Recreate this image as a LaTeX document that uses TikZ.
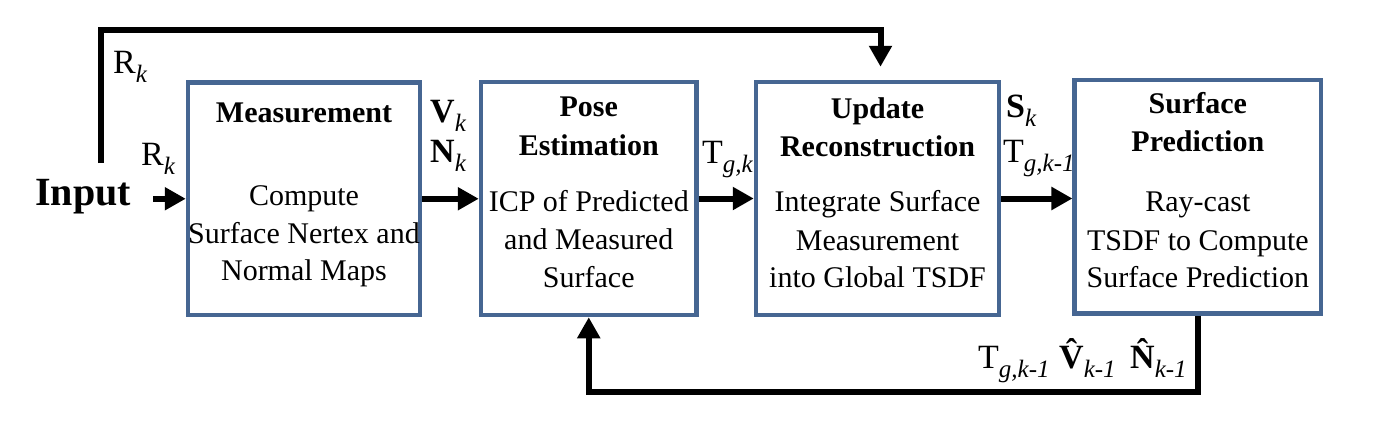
\documentclass[tikz,border=0pt]{standalone}
\usepackage{fontspec}
\setmainfont{Liberation Serif}
\usetikzlibrary{arrows.meta}
\definecolor{boxblue}{RGB}{70,102,146}
\newcommand\lsub[1]{\raisebox{-9pt}{\fontsize{25}{25}\selectfont\mdseries\itshape #1}}
\begin{document}
\begin{tikzpicture}[x=1pt,y=-1pt,
  box/.style={draw=boxblue, line width=4.5pt, inner sep=0pt},
  arr/.style={line width=6pt, -{Triangle[length=21pt,width=22pt]}},
  ln/.style={line width=6pt},
  hd/.style={font=\fontsize{30}{36}\selectfont\bfseries, anchor=base, inner sep=0pt},
  bd/.style={font=\fontsize{30}{36}\selectfont, anchor=base, inner sep=0pt},
  lbl/.style={font=\fontsize{34}{40}\selectfont, anchor=base west, inner sep=0pt},
  blbl/.style={lbl, font=\fontsize{34}{40}\selectfont\bfseries}]
\useasboundingbox (0,0) rectangle (1400,434);

% boxes
\node[box, minimum width=232pt, minimum height=232.5pt] (m) at (304,198.75) {};
\node[box, minimum width=215.5pt, minimum height=233pt] (p) at (588.75,198.5) {};
\node[box, minimum width=243pt, minimum height=233pt] (u) at (877.5,198.5) {};
\node[box, minimum width=246.3pt, minimum height=233.5pt] (s) at (1197.85,196.75) {};

% box texts
\node[hd] (m1) at (304,122) {Measurement};
\node[bd] (m2) at (304,205) {Compute};
\node[bd] (m3) at (304,243) {Surface Nertex and};
\node[bd] (m4) at (304,280) {Normal Maps};

\node[hd] (p1) at (588.75,116.7) {Pose};
\node[hd] (p2) at (588.75,155) {Estimation};
\node[bd] (p3) at (588.75,211.7) {ICP of Predicted};
\node[bd] (p4) at (588.75,249.3) {and Measured};
\node[bd] (p5) at (588.75,287.3) {Surface};

\node[hd] (u1) at (877.5,118.3) {Update};
\node[hd] (u2) at (877.5,156.7) {Reconstruction};
\node[bd] (u3) at (877.5,211.7) {Integrate Surface};
\node[bd] (u4) at (877.5,250) {Measurement};
\node[bd] (u5) at (877.5,287.3) {into Global TSDF};

\node[hd] (s1) at (1197.85,113.3) {Surface};
\node[hd] (s2) at (1197.85,151.7) {Prediction};
\node[bd] (s3) at (1197.85,211.7) {Ray-cast};
\node[bd] (s4) at (1197.85,250) {TSDF to Compute};
\node[bd] (s5) at (1197.85,287.3) {Surface Prediction};

% input
\node[font=\fontsize{40}{48}\selectfont\bfseries, anchor=base west, inner sep=0pt] (in) at (35,205) {Input};

% forward arrows
\draw[arr] ([xshift=22pt]in.east |- m.west) -- (m.west);
\draw[arr] (m.east) -- (m.east -| p.west);
\draw[arr] (p.east) -- (p.east -| u.west);
\draw[arr] (u.east) -- (u.east -| s.west);

% top feedback
\coordinate (tstart) at (101,163);
\coordinate (ttop) at (101,30);
\draw[arr] (tstart) -- (ttop) -| ([xshift=3pt,yshift=13pt]u.north);

% bottom feedback
\coordinate (bot) at (0,392);
\draw[arr] (s.south) -- (s.south |- bot) -| (p.south);

% labels
\node[lbl] (r1) at (113,73) {R\lsub{k}};
\node[lbl] (r2) at (141,165) {R\lsub{k}};
\node[blbl] (vk) at (430,122) {V\lsub{k}};
\node[blbl] (nk) at (430,162) {N\lsub{k}};
\node[lbl] (tgk) at (702,163) {T\lsub{g,k}};
\node[blbl] (sk) at (1006,117) {S\lsub{k}};
\node[lbl] (tgk1) at (1003,162) {T\lsub{g,k-1}};
\node[lbl] (bt) at (978,368) {T\lsub{g,k-1}};
\node[blbl] (bv) at (1059,368) {\^{V}\lsub{k-1}};
\node[blbl] (bn) at (1130,368) {\^{N}\lsub{k-1}};
\end{tikzpicture}
\end{document}
